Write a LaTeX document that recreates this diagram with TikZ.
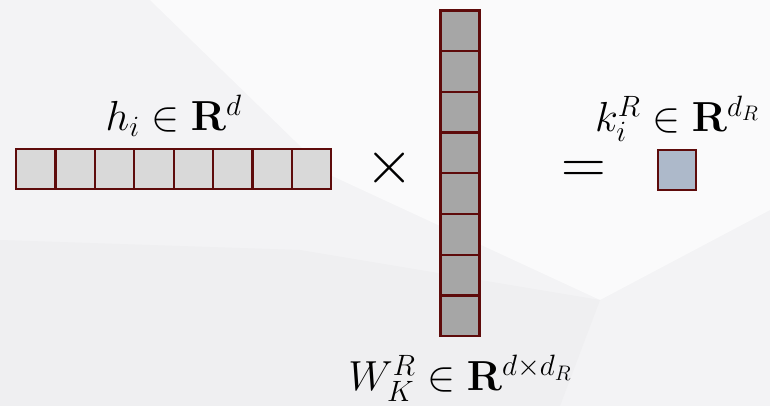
\RequirePackage{fix-cm}
\documentclass[tikz,border=0pt]{standalone}
\usepackage{amsmath}
\usetikzlibrary{positioning}

\definecolor{cellrim}{HTML}{5E0B0B}
\definecolor{vecfill}{HTML}{D9D9D9}
\definecolor{matfill}{HTML}{A6A6A6}
\definecolor{keyfill}{HTML}{ADB9CA}
\definecolor{paper}{HTML}{F3F3F5}
\definecolor{paperlight}{HTML}{FAFAFB}
\definecolor{paperdark}{HTML}{EFEFF1}

\begin{document}
\begin{tikzpicture}[
  x=1pt, y=-1pt,
  cell/.style={draw=cellrim, line width=2.2pt, inner sep=0pt, outer sep=0pt},
  hcell/.style={cell, fill=vecfill, minimum width=39.4pt, minimum height=40pt},
  wcell/.style={cell, fill=matfill, minimum width=39pt, minimum height=40.7pt},
  kcell/.style={cell, fill=keyfill, minimum width=38.6pt, minimum height=40pt},
  lbl/.style={inner sep=0pt, font=\fontsize{42}{50}\selectfont},
  sym/.style={inner sep=0pt, font=\fontsize{62}{72}\selectfont}
]
  % backdrop
  \fill[paper] (0,0) rectangle (770,406);
  \fill[paperlight] (150,0) -- (770,0) -- (770,210) -- (600,300) -- (330,175) -- cycle;
  \fill[paperdark] (0,240) -- (300,250) -- (600,300) -- (560,406) -- (0,406) -- cycle;
  \useasboundingbox (0,0) rectangle (770,406);

  % hidden vector
  \node[hcell] (h1) at (35.7,169) {};
  \foreach \i [remember=\i as \j (initially 1)] in {2,...,8}
    \node[hcell, right=0pt of h\j] (h\i) {};

  % projection matrix
  \node[wcell] (w1) at (460,30.85) {};
  \foreach \i [remember=\i as \j (initially 1)] in {2,...,8}
    \node[wcell, below=0pt of w\j] (w\i) {};

  % key
  \node[kcell] (k) at (677,170) {};

  \node[sym] (times) at (389.5,167.5) {$\times$};
  \node[sym] (eq) at (583.5,172) {$=$};

  \node[lbl, above=12pt of h4.north east] (hlab) {$h_i \in \mathbf{R}^{d}$};
  \node[lbl, above=8pt of k.north] (klab) {$k_i^R \in \mathbf{R}^{d_R}$};
  \node[lbl, below=19pt of w8.south] (wlab) {$W_K^R \in \mathbf{R}^{d\times d_R}$};
\end{tikzpicture}
\end{document}
